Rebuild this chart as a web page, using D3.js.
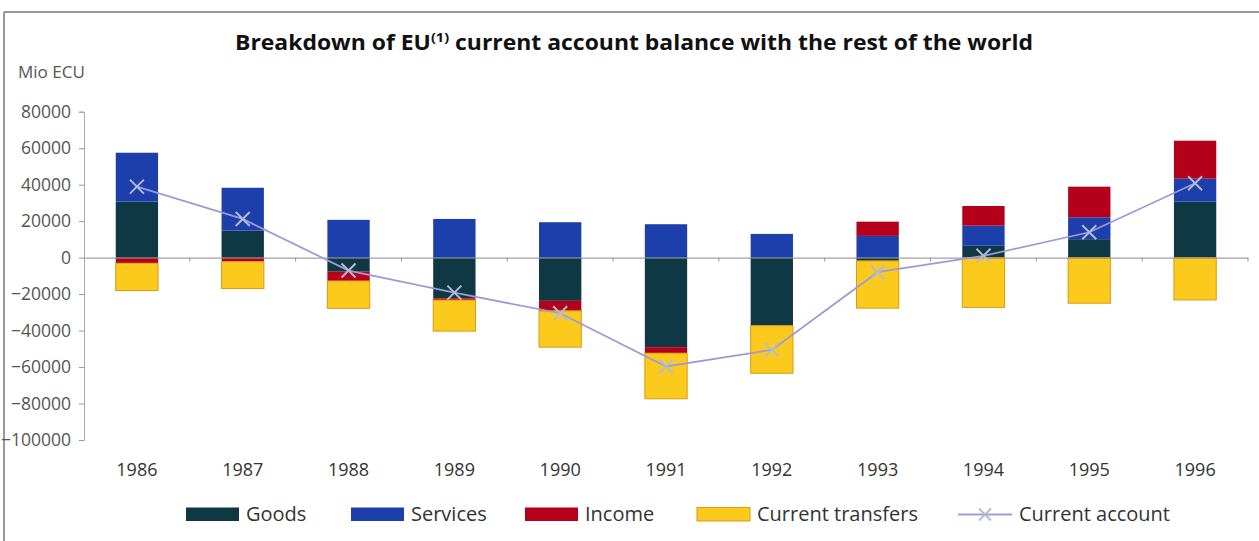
<!DOCTYPE html>
<html>
<head>
<meta charset="utf-8">
<script src="https://cdn.jsdelivr.net/npm/d3@7"></script>
<style>
  html, body { margin: 0; padding: 0; background: #fff; }
  svg { display: block; }
  text { font-family: "Open Sans", "Noto Sans", sans-serif; }
</style>
</head>
<body>
<svg id="chart" width="1259" height="541"></svg>
<script>
// ---- data ----
const years = ["1986","1987","1988","1989","1990","1991","1992","1993","1994","1995","1996"];
const goods = [30700, 14800, -7700, -22300, -23700, -49100, -37300, -1800, 6500, 10100, 30700];
const services = [26800, 23500, 20700, 21200, 19400, 18300, 13000, 11900, 11000, 12000, 12600];
const income = [-3100, -2200, -5100, -1000, -5500, -3300, 0, 7800, 10800, 16800, 20800];
const transfers = [-15000, -14800, -15000, -17000, -19900, -25000, -26100, -25900, -27300, -25000, -23200];
const currentAccount = [38900, 21200, -7100, -19200, -30500, -59700, -50600, -8000, 1000, 13900, 40800];
const yTicks = [80000, 60000, 40000, 20000, 0, -20000, -40000, -60000, -80000, -100000];
const seriesNames = ["Goods", "Services", "Income", "Current transfers"];
const lineName = "Current account";

// ---- layout ----
const svg = d3.select("#chart");
const colors = { goods: "#0f3845", services: "#1c3fab", income: "#b5001c", transfers: "#fcca1c" };
const keys = ["goods", "services", "income", "transfers"];

const x = d3.scaleBand().domain(years).range([84, 1248]).paddingInner(0.6).paddingOuter(0.3);
const y = d3.scaleLinear().domain([-100000, 80000]).range([440, 111.7]);

// frame
svg.append("line").attr("x1", 4).attr("x2", 1259).attr("y1", 12).attr("y2", 12)
  .attr("stroke", "#777").attr("stroke-width", 1.5);
svg.append("line").attr("x1", 4).attr("x2", 4).attr("y1", 12).attr("y2", 541)
  .attr("stroke", "#777").attr("stroke-width", 1.5);

// title
const title = svg.append("text").attr("x", 235).attr("y", 50).attr("text-anchor", "start")
  .attr("font-size", 20.5).attr("font-weight", 700).attr("fill", "#111")
  .attr("textLength", 798).attr("lengthAdjust", "spacingAndGlyphs");
title.append("tspan").text("Breakdown of EU");
title.append("tspan").attr("dy", -8).attr("font-size", 13).text("(1)");
title.append("tspan").attr("dy", 8).text(" current account balance with the rest of the world");

// unit label
svg.append("text").attr("x", 18).attr("y", 78).attr("font-size", 17).attr("fill", "#555").text("Mio ECU");

// y axis
const yAxis = d3.axisLeft(y).tickValues(yTicks).tickSize(5).tickFormat(d3.format("d"));
const gy = svg.append("g").attr("transform", "translate(84,0)").call(yAxis);
gy.select(".domain").attr("stroke", "#aaa");
gy.selectAll(".tick line").attr("stroke", "#999");
gy.selectAll(".tick text").attr("font-size", 17.5).attr("fill", "#555").attr("x", -13)
  .style("font-family", "'Open Sans', sans-serif");

// data rows
const rows = years.map((yr, i) => ({
  year: yr, goods: goods[i], services: services[i], income: income[i], transfers: transfers[i]
}));
const stacked = d3.stack().keys(keys).offset(d3.stackOffsetDiverging)(rows);

// bars
svg.append("g").selectAll("g").data(stacked).join("g")
  .attr("fill", d => colors[d.key])
  .attr("stroke", d => d.key === "transfers" ? "#d99a18" : "none")
  .attr("stroke-width", 1)
  .selectAll("rect").data(d => d).join("rect")
  .attr("x", d => x(d.data.year))
  .attr("width", x.bandwidth())
  .attr("y", d => y(Math.max(d[0], d[1])))
  .attr("height", d => Math.abs(y(d[0]) - y(d[1])));

// zero axis line with category ticks
const gx = svg.append("g").attr("transform", `translate(0,${y(0)})`)
  .call(d3.axisBottom(x).tickSize(0).tickFormat(""));
gx.select(".domain").attr("stroke", "#8a8a8a").attr("stroke-width", 1);
gx.selectAll(".tick").remove();
svg.append("g").selectAll("line").data(years).join("line")
  .attr("x1", d => x(d) + x.bandwidth() / 2 + x.step() / 2)
  .attr("x2", d => x(d) + x.bandwidth() / 2 + x.step() / 2)
  .attr("y1", y(0)).attr("y2", y(0) + 4).attr("stroke", "#999");

// x labels
svg.append("g").selectAll("text").data(years).join("text")
  .attr("x", d => x(d) + x.bandwidth() / 2).attr("y", 476)
  .attr("text-anchor", "middle").attr("font-size", 18).attr("fill", "#333").text(d => d);

// current account line
const cx = i => x(years[i]) + x.bandwidth() / 2;
const line = d3.line().x((d, i) => cx(i)).y(d => y(d));
svg.append("path").datum(currentAccount).attr("d", line)
  .attr("fill", "none").attr("stroke", "#9b9bdc").attr("stroke-width", 1.8);
const xMark = (g, px, py, s) => {
  g.append("path").attr("d", `M${px - s},${py - s}L${px + s},${py + s}M${px - s},${py + s}L${px + s},${py - s}`)
    .attr("stroke", "#b3bcd2").attr("stroke-width", 2).attr("fill", "none");
};
const gm = svg.append("g");
currentAccount.forEach((v, i) => xMark(gm, cx(i), y(v), 7));

// legend
const legendSw = [186, 351, 525, 697];
const lg = svg.append("g");
keys.forEach((k, i) => {
  lg.append("rect").attr("x", legendSw[i]).attr("y", 507.5).attr("width", 53).attr("height", 13.5)
    .attr("fill", colors[k]).attr("stroke", k === "transfers" ? "#d99a18" : "none");
  lg.append("text").attr("x", legendSw[i] + 60).attr("y", 521).attr("font-size", 20)
    .attr("fill", "#333").text(seriesNames[i]);
});
lg.append("line").attr("x1", 958).attr("x2", 1012).attr("y1", 514.5).attr("y2", 514.5)
  .attr("stroke", "#9b9bdc").attr("stroke-width", 1.8);
xMark(lg, 985, 514.5, 6);
lg.append("text").attr("x", 1019).attr("y", 521).attr("font-size", 20).attr("fill", "#333").text(lineName);
</script>
</body>
</html>
